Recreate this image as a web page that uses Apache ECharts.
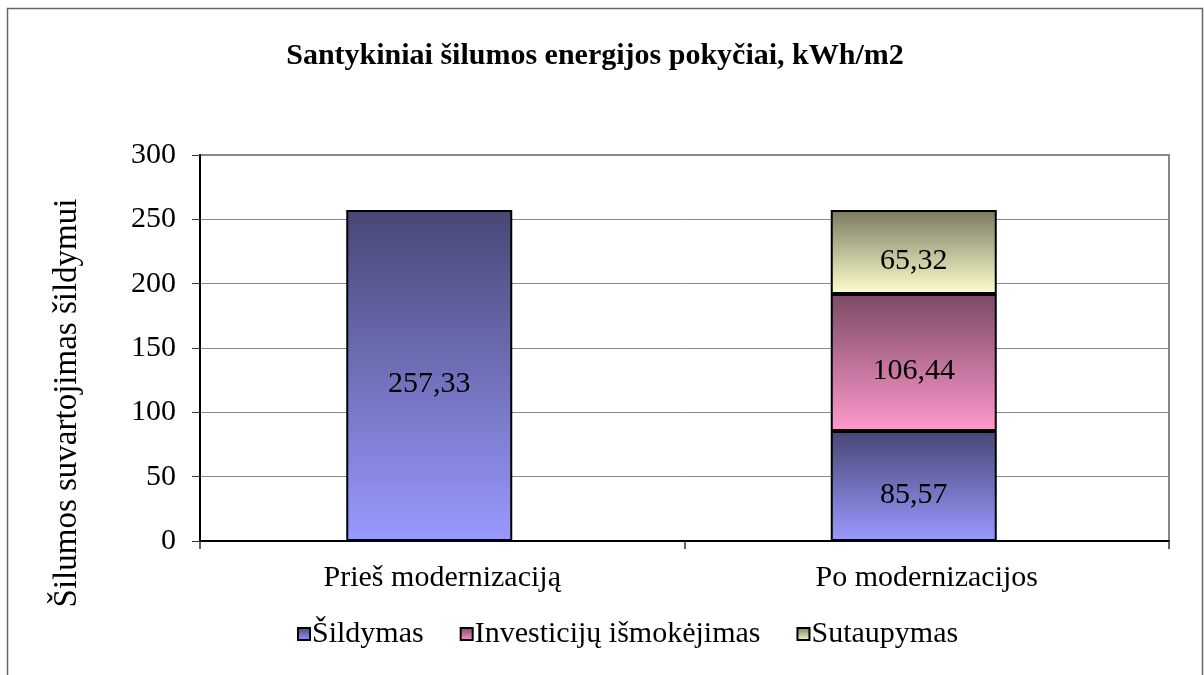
<!DOCTYPE html>
<html>
<head>
<meta charset="utf-8">
<script src="https://cdn.jsdelivr.net/npm/echarts@6/dist/echarts.min.js"></script>
<style>
  html, body { margin: 0; padding: 0; background: #fff; }
  #chart { width: 1204px; height: 675px; }
</style>
</head>
<body>
<div id="chart"></div>
<script>
const categories = ['Prieš modernizaciją', 'Po modernizacijos'];
const sildymas = [257.33, 85.57];
const investicijos = ['-', 106.44];
const sutaupymas = ['-', 65.32];
const seriesNames = ['Šildymas', 'Investicijų išmokėjimas', 'Sutaupymas'];

const font = 'Liberation Serif, Times New Roman, serif';

function grad(top, bottom) {
    return new echarts.graphic.LinearGradient(0, 0, 0, 1, [
        {offset: 0, color: top},
        {offset: 1, color: bottom}
    ]);
}

const label = {
    show: true,
    position: 'inside',
    offset: [0, 9],
    color: '#000',
    fontFamily: font,
    fontSize: 30,
    formatter: p => p.value.toFixed(2).replace('.', ',')
};

// bars sit on a hidden copy of the grid, a little to the left like in the original
function bar(name, data, top, bottom) {
    return {
        name: name,
        type: 'bar',
        stack: 'total',
        data: data,
        xAxisIndex: 1,
        yAxisIndex: 1,
        barWidth: 166,
        itemStyle: {color: grad(top, bottom), borderColor: '#000', borderWidth: 2},
        label: label
    };
}

let chart = echarts.init(document.getElementById('chart'));
chart.setOption({
    animation: false,
    graphic: [{
        type: 'rect',
        shape: {x: 7.5, y: 8.5, width: 1195, height: 680},
        style: {fill: 'none', stroke: '#666', lineWidth: 1.5},
        silent: true
    }],
    title: {
        text: 'Santykiniai šilumos energijos pokyčiai, kWh/m2',
        left: 590,
        textAlign: 'center',
        top: 36,
        textStyle: {fontFamily: font, fontWeight: 'bold', fontSize: 30, color: '#000'}
    },
    legend: {
        data: seriesNames,
        top: 614,
        left: 292,
        itemWidth: 12,
        itemHeight: 12,
        itemGap: 36,
        icon: 'rect',
        textStyle: {fontFamily: font, fontSize: 30, color: '#000', padding: [0, 0, 0, -3]},
        itemStyle: {borderColor: '#000', borderWidth: 2}
    },
    grid: [{
        left: 200,
        right: 35,
        top: 155,
        bottom: 134,
        show: true,
        borderColor: '#888',
        borderWidth: 2
    }, {
        left: 187,
        right: 48,
        top: 155,
        bottom: 134
    }],
    xAxis: [{
        type: 'category',
        gridIndex: 0,
        data: categories,
        axisLine: {lineStyle: {color: '#000', width: 2}},
        axisTick: {show: true, length: 8, lineStyle: {color: '#333', width: 1.5}},
        axisLabel: {fontFamily: font, fontSize: 30, color: '#000', margin: 22}
    }, {
        type: 'category',
        gridIndex: 1,
        data: categories,
        show: false
    }],
    yAxis: [{
        type: 'value',
        gridIndex: 0,
        min: 0,
        max: 300,
        interval: 50,
        name: 'Šilumos suvartojimas šildymui',
        nameLocation: 'middle',
        nameGap: 116,
        nameRotate: 90,
        nameTextStyle: {fontFamily: font, fontSize: 33, color: '#000', padding: [0, 110, 0, 0]},
        axisLine: {show: true, lineStyle: {color: '#000', width: 2}},
        axisTick: {show: true, length: 8, lineStyle: {color: '#333', width: 1}},
        axisLabel: {fontFamily: font, fontSize: 30, color: '#000', margin: 24},
        splitLine: {lineStyle: {color: '#888', width: 1}}
    }, {
        type: 'value',
        gridIndex: 1,
        min: 0,
        max: 300,
        interval: 50,
        show: false,
        splitLine: {show: false}
    }],
    series: [
        bar(seriesNames[0], sildymas, '#474775', '#9999ff'),
        bar(seriesNames[1], investicijos, '#7b4a66', '#ff99cc'),
        bar(seriesNames[2], sutaupymas, '#7a7a62', '#ffffcc')
    ]
});
</script>
</body>
</html>
